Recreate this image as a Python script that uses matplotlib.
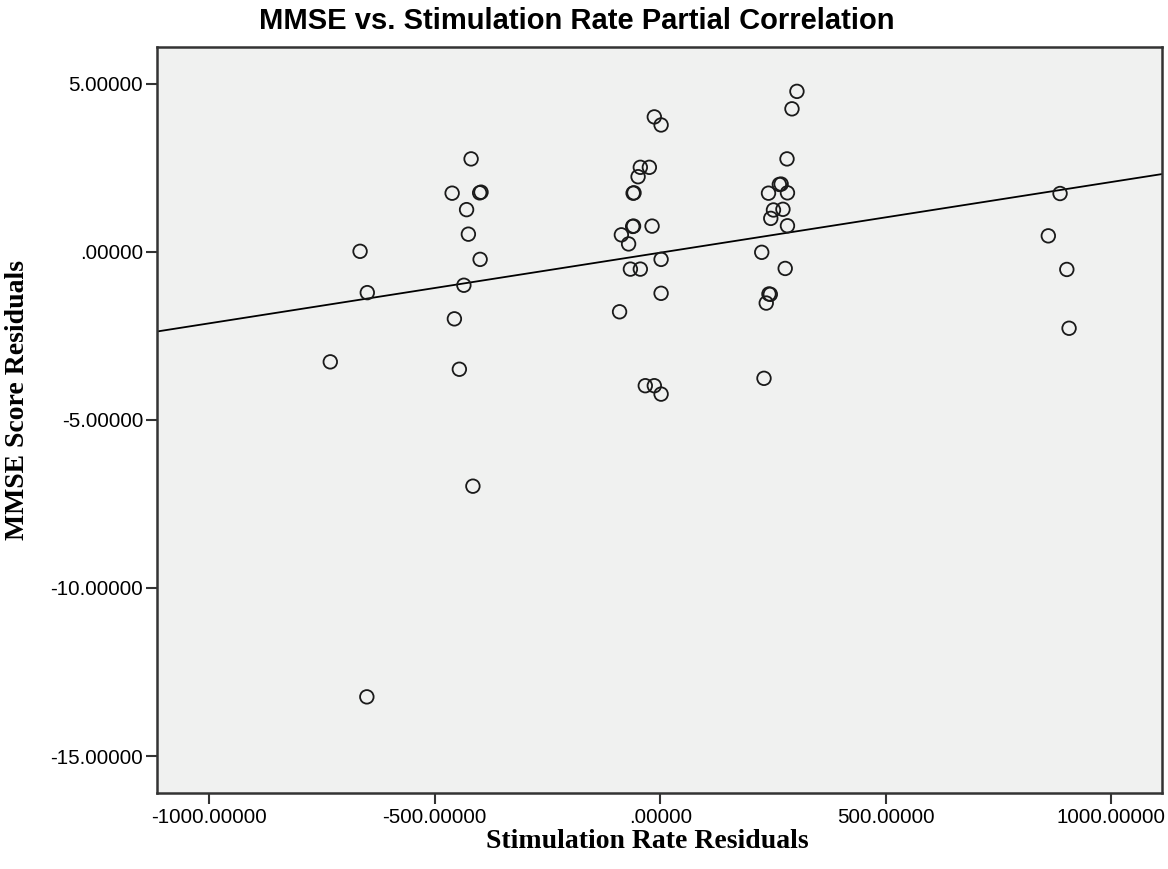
import matplotlib.pyplot as plt
import numpy as np
from matplotlib.ticker import FuncFormatter


TITLE = "MMSE vs. Stimulation Rate Partial Correlation"
X_LABEL = "Stimulation Rate Residuals"
Y_LABEL = "MMSE Score Residuals"

# stimulation rate residuals (x) and MMSE score residuals (y)
STIM_RESIDUALS = [
	-731, -665, -649, -650,
	-461, -419, -400, -397, -429, -425, -399, -435, -456, -445, -415,
	-13, 2, -44, -24, -49, -60, -58, -61, -59, -18, -86, -70, 2, -66, -44, 2, -90, -33, -13, 2,
	303, 292, 281, 264, 268, 240, 282, 251, 272, 245, 282, 225, 277, 241, 244, 235, 230,
	886, 860, 901, 906,
]
MMSE_RESIDUALS = [
	-3.27, 0.02, -1.21, -13.24,
	1.75, 2.77, 1.76, 1.78, 1.26, 0.53, -0.22, -0.99, -1.99, -3.49, -6.97,
	4.02, 3.78, 2.52, 2.52, 2.24, 1.75, 1.76, 0.76, 0.77, 0.77, 0.51, 0.24, -0.22, -0.51, -0.51, -1.23, -1.78, -3.98, -3.98, -4.23,
	4.78, 4.26, 2.77, 2.01, 2.02, 1.75, 1.76, 1.25, 1.27, 1.0, 0.78, -0.01, -0.49, -1.25, -1.26, -1.52, -3.76,
	1.74, 0.48, -0.52, -2.27,
]

X_TICKS = [-1000, -500, 0, 500, 1000]
Y_TICKS = [5, 0, -5, -10, -15]
X_LIMITS = (-1115, 1112)
Y_LIMITS = (-16.1, 6.1)


def spssFormat(value, _pos):
	text = f"{value:.5f}"
	if text.startswith("0."):
		text = text[1:]
	elif text.startswith("-0."):
		text = ".00000" if float(text) == 0 else "-" + text[2:]
	return text


def main():
	x = np.asarray(STIM_RESIDUALS, dtype=float)
	y = np.asarray(MMSE_RESIDUALS, dtype=float)

	fig = plt.figure(figsize=(11.68, 8.69), dpi=100)
	ax = fig.add_axes([0.1344, 0.0875, 0.8605, 0.8584])
	ax.set_facecolor("#f0f1f0")

	slope, intercept = np.polyfit(x, y, 1)
	line_x = np.array(X_LIMITS)
	ax.plot(line_x, slope * line_x + intercept, color="black", linewidth=1.3, zorder=2)

	ax.scatter(x, y, s=95, facecolors="none", edgecolors="#1a1a1a", linewidths=1.3, zorder=3)

	ax.set_xlim(*X_LIMITS)
	ax.set_ylim(*Y_LIMITS)
	ax.set_xticks(X_TICKS)
	ax.set_yticks(Y_TICKS)
	ax.xaxis.set_major_formatter(FuncFormatter(spssFormat))
	ax.yaxis.set_major_formatter(FuncFormatter(spssFormat))
	ax.tick_params(axis="both", direction="out", length=8, width=1.5, color="#333333", labelsize=14.8, labelcolor="black")
	ax.tick_params(axis="x", pad=3)
	ax.tick_params(axis="y", pad=2)
	for label in ax.get_xticklabels() + ax.get_yticklabels():
		label.set_family(["Liberation Sans", "DejaVu Sans"])

	for spine in ax.spines.values():
		spine.set_color("#333333")
		spine.set_linewidth(1.8)

	fig.text(0.494, 0.976, TITLE, ha="center", va="center", fontsize=21, fontweight="bold", family=["Liberation Sans", "DejaVu Sans"])
	fig.text(0.554, 0.032, X_LABEL, ha="center", va="center", fontsize=20, fontweight="bold", family=["Liberation Serif", "DejaVu Serif"])
	fig.text(0.015, 0.54, Y_LABEL, ha="center", va="center", rotation=90, fontsize=20, fontweight="bold", family=["Liberation Serif", "DejaVu Serif"])

	fig.savefig("out.png", dpi=100)
	plt.close(fig)


if __name__ == "__main__":
	main()
